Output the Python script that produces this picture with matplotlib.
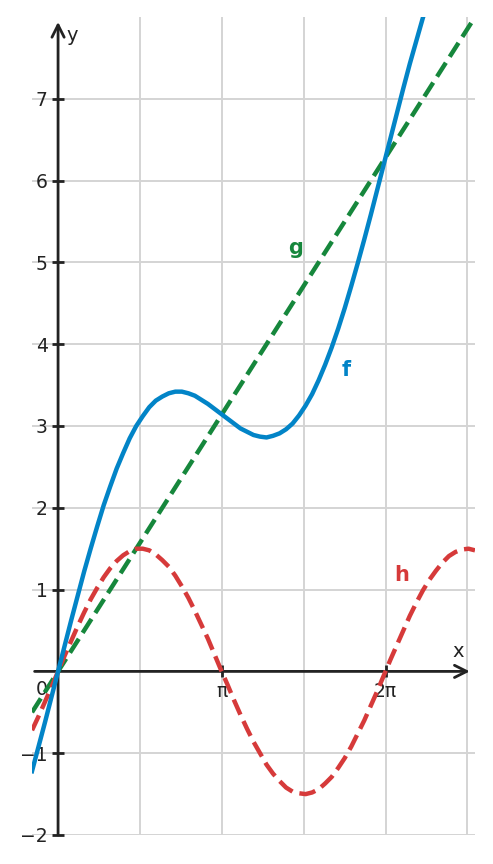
import matplotlib
matplotlib.use("Agg")
import matplotlib.pyplot as plt
import numpy as np

# values (x step 0.125)
xs = [-0.5, -0.375, -0.25, -0.125, 0.0, 0.125, 0.25, 0.375, 0.5, 0.625,
      0.75, 0.875, 1.0, 1.125, 1.25, 1.375, 1.5, 1.625, 1.75, 1.875,
      2.0, 2.125, 2.25, 2.375, 2.5, 2.625, 2.75, 2.875, 3.0, 3.125,
      3.25, 3.375, 3.5, 3.625, 3.75, 3.875, 4.0, 4.125, 4.25, 4.375,
      4.5, 4.625, 4.75, 4.875, 5.0, 5.125, 5.25, 5.375, 5.5, 5.625,
      5.75, 5.875, 6.0, 6.125, 6.25, 6.375, 6.5, 6.625, 6.75, 6.875,
      7.0, 7.125, 7.25, 7.375, 7.5, 7.625, 7.75, 7.875, 8.0]
f_vals = [-1.22, -0.92, -0.62, -0.31, 0.0, 0.31, 0.62, 0.92, 1.22, 1.50,
          1.77, 2.03, 2.26, 2.48, 2.67, 2.85, 3.00, 3.12, 3.23, 3.31,
          3.36, 3.40, 3.42, 3.42, 3.40, 3.37, 3.32, 3.27, 3.21, 3.15,
          3.09, 3.03, 2.97, 2.93, 2.89, 2.87, 2.86, 2.88, 2.91, 2.96,
          3.03, 3.13, 3.25, 3.39, 3.56, 3.75, 3.96, 4.19, 4.44, 4.71,
          4.99, 5.28, 5.58, 5.89, 6.20, 6.51, 6.82, 7.13, 7.43, 7.71,
          7.99, 8.24, 8.48, 8.71, 8.91, 9.10, 9.24, 9.37, 9.48]
h_vals = [-0.72, -0.55, -0.37, -0.19, 0.0, 0.19, 0.37, 0.55, 0.72, 0.88,
          1.02, 1.15, 1.26, 1.35, 1.42, 1.47, 1.50, 1.50, 1.48, 1.43,
          1.36, 1.28, 1.17, 1.04, 0.90, 0.74, 0.57, 0.40, 0.21, 0.02,
          -0.16, -0.35, -0.53, -0.70, -0.86, -1.00, -1.14, -1.25, -1.34, -1.42,
          -1.47, -1.49, -1.50, -1.48, -1.44, -1.37, -1.29, -1.18, -1.06, -0.92,
          -0.76, -0.60, -0.42, -0.24, -0.05, 0.14, 0.32, 0.50, 0.68, 0.84,
          0.99, 1.12, 1.23, 1.33, 1.41, 1.46, 1.49, 1.50, 1.48]
g_x = [-0.5, 8.0]
g_vals = [-0.5, 8.0]

xtick_pos = [np.pi, 2 * np.pi]
xtick_lab = ["π", "2π"]
ytick_pos = [-2, -1, 1, 2, 3, 4, 5, 6, 7]

blue = "#0284c7"
green = "#16873c"
red = "#d63a3a"
dark = "#222222"

fig = plt.figure(figsize=(4.93, 8.64), dpi=100)
ax = fig.add_axes([32 / 493, 29 / 864, 443 / 493, 818 / 864])
ax.set_xlim(-0.5, 8.0)
ax.set_ylim(-2, 8)

for s in ax.spines.values():
    s.set_visible(False)
ax.spines["left"].set_position(("data", 0))
ax.spines["bottom"].set_position(("data", 0))

ax.set_xticks(xtick_pos)
ax.set_xticklabels(xtick_lab)
ax.set_xticks([np.pi / 2 * k for k in range(1, 6)], minor=True)
ax.set_yticks(ytick_pos)
ax.tick_params(which="major", direction="inout", length=8, width=2, color=dark,
               labelsize=13.5, labelcolor=dark)
ax.tick_params(which="minor", length=0)
ax.grid(True, which="both", color="#d4d4d4", lw=1.4, zorder=0)

ax.plot(g_x, g_vals, color=green, lw=3.2, ls="--", zorder=4)
ax.plot(xs, h_vals, color=red, lw=3.2, ls="--", zorder=4, dash_joinstyle="round")
ax.plot(xs, f_vals, color=blue, lw=3.2, zorder=5, solid_joinstyle="round")

arrow = dict(arrowstyle="->", lw=2, color=dark, mutation_scale=22, shrinkA=0, shrinkB=0)
ax.annotate("", xy=(7.9, 0), xytext=(-0.45, 0), arrowprops=arrow, zorder=3)
ax.annotate("", xy=(0, 7.94), xytext=(0, -2), arrowprops=arrow, zorder=3)

ax.text(7.68, 0.24, "x", fontsize=14, color=dark, ha="center", va="center")
ax.text(0.27, 7.77, "y", fontsize=14, color=dark, ha="center", va="center")
ax.text(-0.31, -0.22, "0", fontsize=13.5, color=dark, ha="center", va="center")

ax.text(5.52, 3.69, "f", fontsize=15, fontweight="bold", color=blue, ha="center", va="center")
ax.text(4.56, 5.17, "g", fontsize=15, fontweight="bold", color=green, ha="center", va="center")
ax.text(6.59, 1.18, "h", fontsize=15, fontweight="bold", color=red, ha="center", va="center")

fig.savefig("out.png", dpi=100)
